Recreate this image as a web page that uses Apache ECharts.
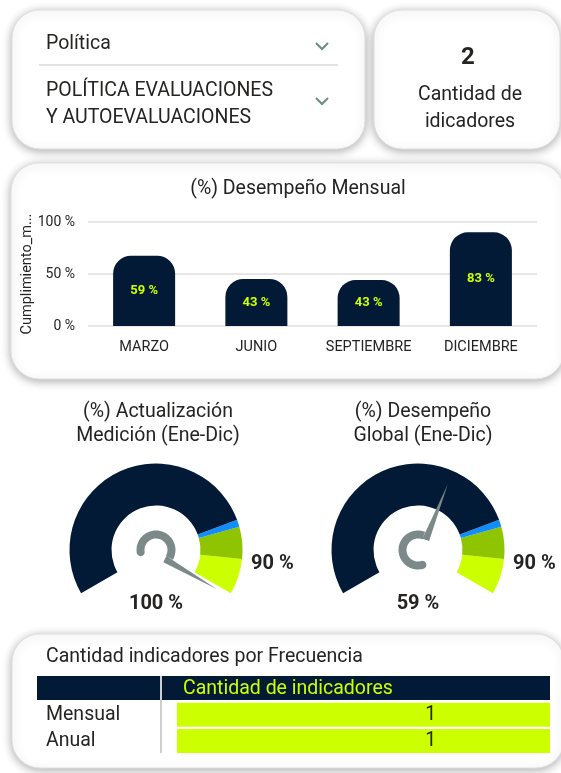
<!DOCTYPE html>
<html>
<head>
<meta charset="utf-8">
<title>Desempeño</title>
<script src="https://cdn.jsdelivr.net/npm/echarts@6/dist/echarts.min.js"></script>
<style>
  html, body { margin: 0; padding: 0; background: #fff; }
  #main { width: 561px; height: 773px; }
</style>
</head>
<body>
<div id="main"></div>
<script>
const filterLabels = ['Política', 'POLÍTICA EVALUACIONES\nY AUTOEVALUACIONES'];
const indicatorCount = 2;
const indicatorCaption = 'Cantidad de\nidicadores';

const months = ['MARZO', 'JUNIO', 'SEPTIEMBRE', 'DICIEMBRE'];
const monthlyBars = [67.6, 45.2, 44.2, 90.1];   // altura de la barra
const monthlyLabels = [59, 43, 43, 83];          // etiqueta mostrada
const yTicks = [0, 50, 100];

const gaugeTitles = ['(%) Actualización\nMedición (Ene-Dic)', '(%) Desempeño\nGlobal (Ene-Dic)'];
const gaugeValues = [100, 59];
const gaugeTarget = 90;
const gaugeBands = [79, 81, 90, 100];

const freqNames = ['Mensual', 'Anual'];
const freqCounts = [1, 1];

const FONT = 'Roboto, sans-serif';
const INK = '#252423';
const NAVY = '#021a35';
const LIME = '#ccff00';
const bandColors = [NAVY, '#118dff', '#8fc400', LIME];

// aguja con el anillo en forma de gancho (coordenadas locales, aguja hacia arriba)
function hookIcon() {
  const ro = 19.5, ri = 11.5, rc = (ro + ri) / 2, cap = (ro - ri) / 2;
  const a0 = 90, a1 = 308;
  const P = (r, a, cx = 0, cy = 0) => [cx + r * Math.cos(a * Math.PI / 180), cy - r * Math.sin(a * Math.PI / 180)];
  const ring = [];
  for (let a = a0; a < a1; a += 6) ring.push(P(ro, a));
  ring.push(P(ro, a1));
  const c = P(rc, a1);
  for (let t = 0; t <= 180; t += 15) ring.push(P(cap, a1 + t, c[0], c[1]));
  for (let a = a1; a > a0; a -= 6) ring.push(P(ri, a));
  ring.push(P(ri, a0));
  const needle = [[0, -12], [3.5, -72], [7, -12.5]];
  const all = ring.concat(needle);
  const xs = all.map(p => p[0]), ys = all.map(p => p[1]);
  const minX = Math.min(...xs), maxX = Math.max(...xs), minY = Math.min(...ys), maxY = Math.max(...ys);
  const poly = pts => 'M' + pts.map(p => p[0].toFixed(2) + ' ' + p[1].toFixed(2)).join(' L') + ' Z';
  return {
    icon: 'path://' + poly(ring) + ' ' + poly(needle),
    width: maxX - minX,
    length: maxY - minY,
    offsetCenter: [minX + (maxX - minX) / 2, maxY]
  };
}
const hook = hookIcon();

function card(x, y, w, h) {
  return {
    type: 'rect', z: 0,
    shape: { x, y, width: w, height: h, r: 28 },
    style: { fill: '#fff', stroke: '#e0e0e0', lineWidth: 1, shadowBlur: 10, shadowOffsetY: 2, shadowColor: 'rgba(0,0,0,0.32)' }
  };
}
function txt(x, y, text, opt = {}) {
  return {
    type: 'text', z: 10, x, y,
    style: Object.assign({ text, fill: INK, fontSize: 19.5, fontFamily: FONT, align: 'left', verticalAlign: 'middle', lineHeight: 27 }, opt)
  };
}
function chevron(cx, cy) {
  return {
    type: 'polyline', z: 10,
    shape: { points: [[cx - 6, cy - 3], [cx, cy + 3], [cx + 6, cy - 3]] },
    style: { stroke: '#6e8a86', lineWidth: 2, fill: null }
  };
}

function gauge(i, cx) {
  const stops = gaugeBands.map((b, k) => [b / 100, bandColors[k]]);
  return {
    type: 'gauge',
    center: [cx, 550],
    radius: 86.5,
    startAngle: 210, endAngle: -30,
    min: 0, max: 100, splitNumber: 10,
    axisLine: { lineStyle: { width: 42, color: stops } },
    axisTick: { show: false, length: 0, distance: 0 },
    splitLine: { show: false, length: 0, distance: 0 },
    axisLabel: {
      show: true, distance: -52, color: INK, fontSize: 20, fontWeight: 'bold', fontFamily: FONT,
      padding: [0, 0, 26, 0],
      formatter: v => (v === gaugeTarget ? v + ' %' : '')
    },
    pointer: {
      show: true, icon: hook.icon, width: hook.width, length: hook.length,
      offsetCenter: hook.offsetCenter, keepAspect: false,
      itemStyle: { color: '#7b8a88' }
    },
    anchor: { show: false },
    progress: { show: false },
    title: { show: false },
    detail: {
      formatter: '{value} %', offsetCenter: [0, 54],
      fontSize: 20, fontWeight: 'bold', fontFamily: FONT, color: INK
    },
    data: [{ value: gaugeValues[i] }]
  };
}

const chart = echarts.init(document.getElementById('main'));
chart.setOption({
  animation: false,
  backgroundColor: '#fff',
  textStyle: { fontFamily: FONT },
  graphic: [
    card(12, 10, 353, 139),
    card(374, 10, 186, 139),
    card(11, 163, 553, 216),
    card(12, 634, 552, 134),
    txt(46, 44, filterLabels[0]),
    { type: 'line', z: 10, shape: { x1: 39, y1: 65, x2: 338, y2: 65 }, style: { stroke: '#d9d9d9', lineWidth: 1.5 } },
    txt(46, 105, filterLabels[1]),
    chevron(322, 46),
    chevron(322, 101),
    txt(468, 58, String(indicatorCount), { fontSize: 24, fontWeight: 'bold', align: 'center' }),
    txt(470, 109, indicatorCaption, { align: 'center' }),
    txt(298, 189, '(%) Desempeño Mensual', { align: 'center' }),
    txt(158, 424, gaugeTitles[0], { align: 'center', lineHeight: 24 }),
    txt(423, 424, gaugeTitles[1], { align: 'center', lineHeight: 24 }),
    txt(46, 657, 'Cantidad indicadores por Frecuencia'),
    { type: 'rect', z: 5, shape: { x: 37, y: 676, width: 513, height: 24 }, style: { fill: NAVY } },
    { type: 'line', z: 6, shape: { x1: 161, y1: 676, x2: 161, y2: 753 }, style: { stroke: '#cfcfcf', lineWidth: 2 } },
    txt(183, 689, 'Cantidad de indicadores', { fill: LIME })
  ],
  grid: [
    { left: 88, right: 24, top: 222, bottom: 773 - 326 },
    { left: 177, right: 11, top: 701.5, height: 52.6 }
  ],
  xAxis: [
    {
      gridIndex: 0, type: 'category', data: months,
      axisLine: { show: false }, axisTick: { show: false },
      axisLabel: { color: INK, fontSize: 14.5, margin: 14 }
    },
    {
      gridIndex: 1, type: 'value', min: 0, max: Math.max(...freqCounts), show: false
    }
  ],
  yAxis: [
    {
      gridIndex: 0, type: 'value', min: yTicks[0], max: yTicks[yTicks.length - 1], interval: yTicks[1] - yTicks[0],
      name: 'Cumplimiento_m...', nameLocation: 'middle', nameGap: 53, nameMoveOverlap: false,
      nameTextStyle: { color: INK, fontSize: 14.5 },
      axisLine: { show: false }, axisTick: { show: false },
      axisLabel: { color: INK, fontSize: 14, margin: 13, formatter: '{value} %' },
      splitLine: { lineStyle: { color: '#e6e6e6', width: 2 } }
    },
    {
      gridIndex: 1, type: 'category', data: freqNames, inverse: true,
      axisLine: { show: false }, axisTick: { show: false }, splitLine: { show: false },
      axisLabel: { color: INK, fontSize: 19.5, align: 'left', margin: 131 }
    }
  ],
  series: [
    {
      type: 'bar', xAxisIndex: 0, yAxisIndex: 0,
      data: monthlyBars, barWidth: 62,
      itemStyle: { color: NAVY, borderRadius: [18, 18, 0, 0] },
      label: {
        show: true, position: 'inside', color: LIME, fontSize: 13, fontWeight: 'bold',
        formatter: p => monthlyLabels[p.dataIndex] + ' %'
      }
    },
    {
      type: 'bar', xAxisIndex: 1, yAxisIndex: 1,
      data: freqCounts, barWidth: 24,
      itemStyle: { color: LIME },
      label: {
        show: true, position: ['68%', '50%'], align: 'center', verticalAlign: 'middle',
        color: INK, fontSize: 19.5, formatter: '{c}'
      }
    },
    gauge(0, 156),
    gauge(1, 418)
  ]
});
</script>
</body>
</html>
